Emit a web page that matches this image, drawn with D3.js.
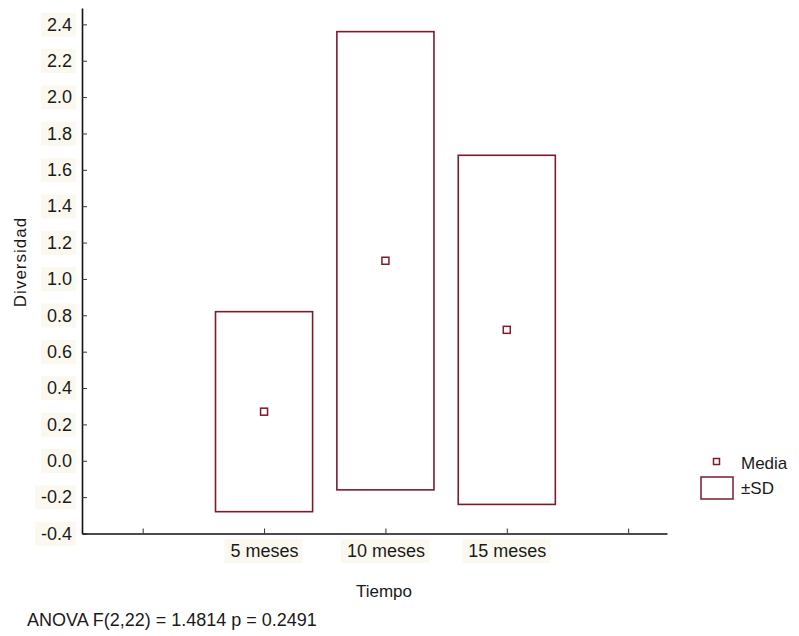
<!DOCTYPE html>
<html>
<head>
<script src="https://cdnjs.cloudflare.com/ajax/libs/d3/7.8.5/d3.min.js"></script>
<style>
    body { margin: 0; background: #ffffff; }
    text { font-family: "Liberation Sans", Arial, sans-serif; fill: #1a1a1a; }
</style>
</head>
<body>
<script>
// data
var categories = ["5 meses", "10 meses", "15 meses"];
var means = [0.27, 1.10, 0.72];
var sds = [0.55, 1.26, 0.96];
var yTicks = [-0.4, -0.2, 0.0, 0.2, 0.4, 0.6, 0.8, 1.0, 1.2, 1.4, 1.6, 1.8, 2.0, 2.2, 2.4];
var xTickPos = [0, 1, 2, 3, 4];

var W = 799, H = 636;
var red = "#7b1c2c";

var svg = d3.select("body").append("svg")
    .attr("width", W)
    .attr("height", H);

var x = d3.scaleLinear().domain([-0.5, 4.32]).range([82, 667]);
var y = d3.scaleLinear().domain([-0.4, 2.49]).range([533.5, 8]);

var bg = svg.append("g"); // faint label backgrounds

// axes
var yAxis = d3.axisLeft(y).tickValues(yTicks).tickSizeInner(-5).tickSizeOuter(0)
    .tickPadding(10);
var gy = svg.append("g").attr("transform", "translate(82,0)").call(yAxis);
gy.select(".domain").attr("stroke", "#111").attr("stroke-width", 1.6);
gy.selectAll(".tick line").attr("stroke", "#333");
gy.selectAll(".tick text").style("font-size", "18px").attr("fill", "#1a1a1a")
    .text(function(d) { return d3.format(".1f")(d).replace("−", "-"); });

var xAxis = d3.axisBottom(x).tickValues(xTickPos).tickSizeInner(-5).tickSizeOuter(0)
    .tickFormat(function(d) { return categories[d - 1] || ""; }).tickPadding(11);
var gx = svg.append("g").attr("transform", "translate(0,533.5)").call(xAxis);
gx.select(".domain").attr("stroke", "#111").attr("stroke-width", 1.6);
gx.selectAll(".tick line").attr("stroke", "#333");
gx.selectAll(".tick text").style("font-size", "18px").attr("fill", "#1a1a1a");

// boxes (mean ± SD)
var hw = 0.4;
svg.append("g").selectAll("rect").data(means).join("rect")
    .attr("x", function(d, i) { return x(i + 1 - hw); })
    .attr("width", x(2 * hw) - x(0))
    .attr("y", function(d, i) { return y(d + sds[i]); })
    .attr("height", function(d, i) { return y(d - sds[i]) - y(d + sds[i]); })
    .attr("fill", "none")
    .attr("stroke", red)
    .attr("stroke-width", 1.6);

// mean markers
svg.append("g").selectAll("rect").data(means).join("rect")
    .attr("x", function(d, i) { return x(i + 1) - 3.5; })
    .attr("y", function(d) { return y(d) - 3.5; })
    .attr("width", 7)
    .attr("height", 7)
    .attr("fill", "#fff")
    .attr("stroke", red)
    .attr("stroke-width", 1.5);

// axis titles
svg.append("text")
    .attr("transform", "translate(26,262) rotate(-90)")
    .attr("text-anchor", "middle")
    .style("font-size", "17px")
    .style("letter-spacing", "1px")
    .text("Diversidad");

svg.append("text")
    .attr("x", 384).attr("y", 597)
    .attr("text-anchor", "middle")
    .style("font-size", "17px")
    .text("Tiempo");

svg.append("text")
    .attr("x", 27).attr("y", 626)
    .style("font-size", "18px")
    .attr("fill", "#1c2238")
    .text("ANOVA F(2,22) = 1.4814 p = 0.2491");

// legend
var lg = svg.append("g");
lg.append("rect").attr("x", 713.5).attr("y", 458.5).attr("width", 6).attr("height", 6)
    .attr("fill", "#fff").attr("stroke", red).attr("stroke-width", 1.5);
lg.append("text").attr("x", 741).attr("y", 469).style("font-size", "17px")
    .attr("fill", "#1c2a5a").text("Media");
lg.append("rect").attr("x", 701).attr("y", 477).attr("width", 32).attr("height", 22)
    .attr("fill", "none").attr("stroke", red).attr("stroke-width", 1.5);
lg.append("text").attr("x", 741).attr("y", 494).style("font-size", "17px").text("±SD");

// faint cream patches behind tick labels, as in the scan
svg.selectAll(".tick text").each(function() {
    if (!this.textContent) return;
    var b = this.getBBox();
    var m = this.getScreenCTM();
    bg.append("rect")
        .attr("x", m.e + b.x - 6).attr("y", m.f + b.y - 2)
        .attr("width", b.width + 10).attr("height", b.height + 4)
        .attr("fill", "#fbf9ef");
});
</script>
</body>
</html>
